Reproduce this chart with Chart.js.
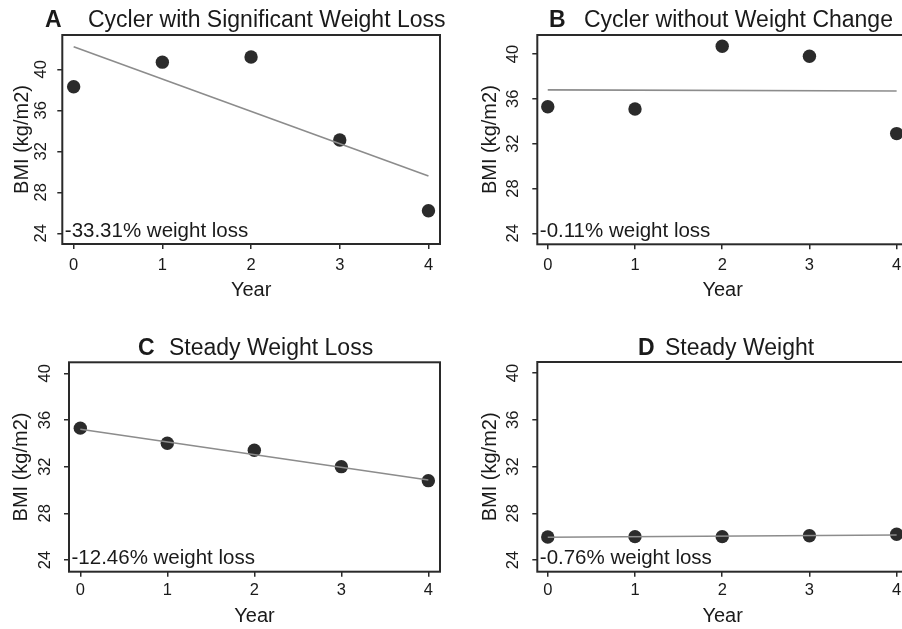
<!DOCTYPE html>
<html>
<head>
<meta charset="utf-8">
<script src="https://cdn.jsdelivr.net/npm/chart.js@4.4.1/dist/chart.umd.min.js"></script>
<style>
  html, body { margin: 0; padding: 0; background: #fff; width: 902px; height: 629px; overflow: hidden; }
  canvas { position: absolute; }
</style>
</head>
<body>
<canvas id="cA" width="451" height="310" style="left:0px;top:0px;"></canvas>
<canvas id="cB" width="470" height="310" style="left:450px;top:0px;"></canvas>
<canvas id="cC" width="451" height="309" style="left:0px;top:320px;"></canvas>
<canvas id="cD" width="470" height="309" style="left:450px;top:320px;"></canvas>
<script>
// ---- data ----
const years = [0, 1, 2, 3, 4];
const fitYears = [0, 4];
const yTicks = [24, 28, 32, 36, 40];

const bmiA = [38.3, 40.7, 41.2, 33.1, 26.2];
const bmiB = [35.3, 35.1, 40.7, 39.8, 32.9];
const bmiC = [35.3, 34.0, 33.4, 32.0, 30.8];
const bmiD = [25.97, 26.0, 26.0, 26.08, 26.2];

const fitA = [42.2, 29.6];
const fitB = [36.8, 36.7];
const fitC = [35.2, 30.85];
const fitD = [25.95, 26.14];

const letters = ['A', 'B', 'C', 'D'];
const titles = ['Cycler with Significant Weight Loss', 'Cycler without Weight Change', 'Steady Weight Loss', 'Steady Weight'];
const notes = ['-33.31% weight loss', '-0.11% weight loss', '-12.46% weight loss', '-0.76% weight loss'];
const yTitle = 'BMI (kg/m2)';
const xTitle = 'Year';

// ---- helpers ----
const FONT = "'Liberation Sans', Arial, Helvetica, sans-serif";
const INK = '#1a1a1a';

const panelDecor = {
  id: 'panelDecor',
  afterDraw(chart, args, o) {
    const ctx = chart.ctx;
    const ca = chart.chartArea;
    ctx.save();
    // frame
    ctx.strokeStyle = '#2a2a2a';
    ctx.lineWidth = 2;
    ctx.strokeRect(ca.left, ca.top, ca.right - ca.left, ca.bottom - ca.top);
    // title
    ctx.fillStyle = INK;
    ctx.textBaseline = 'alphabetic';
    ctx.textAlign = 'left';
    ctx.font = 'bold 23px ' + FONT;
    ctx.fillText(o.letter, o.letterX, o.titleBase);
    ctx.font = '23px ' + FONT;
    ctx.fillText(o.title, o.titleX, o.titleBase);
    // note
    ctx.font = '20.5px ' + FONT;
    ctx.fillText(o.note, ca.left + 2.5, ca.bottom - 7.5);
    ctx.restore();
  }
};

function makePanel(id, cfg) {
  const points = years.map((x, i) => ({ x: x, y: cfg.bmi[i] }));
  const fit = fitYears.map((x, i) => ({ x: x, y: cfg.fit[i] }));
  new Chart(document.getElementById(id), {
    type: 'scatter',
    data: {
      datasets: [
        {
          type: 'line', data: fit, order: 0,
          borderColor: '#8c8c8c', borderWidth: 1.6, pointRadius: 0, fill: false, tension: 0
        },
        {
          type: 'scatter', data: points, order: 1,
          backgroundColor: '#2b2b2b', borderWidth: 0, pointRadius: 6.7, pointHoverRadius: 6.7
        }
      ]
    },
    options: {
      responsive: false,
      animation: false,
      devicePixelRatio: 1,
      layout: { padding: { top: cfg.padTop, right: cfg.padRight, left: 0, bottom: 0 } },
      plugins: {
        legend: { display: false },
        tooltip: { enabled: false },
        panelDecor: {
          letter: cfg.letter, title: cfg.title, note: cfg.note,
          letterX: cfg.letterX, titleX: cfg.titleX, titleBase: cfg.titleBase
        }
      },
      scales: {
        x: {
          type: 'linear', min: cfg.xMin, max: cfg.xMax,
          afterBuildTicks: s => { s.ticks = years.map(v => ({ value: v })); },
          afterFit: s => { s.height = cfg.xAxisH; },
          border: { display: false },
          grid: { display: true, drawOnChartArea: false, drawTicks: true, tickLength: 5, color: '#2a2a2a', lineWidth: 1.5 },
          ticks: { font: { family: FONT, size: 16.5 }, color: INK, padding: cfg.xTickPad, maxRotation: 0, autoSkip: false },
          title: { display: true, text: xTitle, font: { family: FONT, size: 20 }, color: INK, padding: { top: 0, bottom: cfg.xTitlePad } }
        },
        y: {
          type: 'linear', min: cfg.yMin, max: cfg.yMax,
          afterBuildTicks: s => { s.ticks = yTicks.map(v => ({ value: v })); },
          afterFit: s => { s.width = cfg.yAxisW; },
          border: { display: false },
          grid: { display: true, drawOnChartArea: false, drawTicks: true, tickLength: 5, color: '#2a2a2a', lineWidth: 1.5 },
          ticks: { font: { family: FONT, size: 16.5 }, color: INK, padding: cfg.yTickPad, minRotation: 90, maxRotation: 90, crossAlign: 'center', autoSkip: false },
          title: { display: true, text: yTitle, font: { family: FONT, size: 20 }, color: INK, padding: { top: cfg.yTitlePad, bottom: 0 } }
        }
      }
    },
    plugins: [panelDecor]
  });
}

makePanel('cA', {
  bmi: bmiA, fit: fitA, letter: letters[0], title: titles[0], note: notes[0],
  letterX: 45, titleX: 88, titleBase: 26.5,
  padTop: 35, padRight: 11, yAxisW: 62.3, xAxisH: 66,
  xMin: -0.128, xMax: 4.13, yMin: 22.96, yMax: 43.35,
  yTickPad: 6.8, yTitlePad: 10.3, xTickPad: 6.2, xTitlePad: 8
});
makePanel('cB', {
  bmi: bmiB, fit: fitB, letter: letters[1], title: titles[1], note: notes[1],
  letterX: 99, titleX: 134, titleBase: 26.5,
  padTop: 35, padRight: 12, yAxisW: 87.3, xAxisH: 65.7,
  xMin: -0.12, xMax: 4.13, yMin: 23.02, yMax: 41.7,
  yTickPad: 9.8, yTitlePad: 28, xTickPad: 5.9, xTitlePad: 8
});
makePanel('cC', {
  bmi: bmiC, fit: fitC, letter: letters[2], title: titles[2], note: notes[2],
  letterX: 138, titleX: 169, titleBase: 35,
  padTop: 42.3, padRight: 11, yAxisW: 69, xAxisH: 57.3,
  xMin: -0.13, xMax: 4.134, yMin: 23.0, yMax: 40.94,
  yTickPad: 9.1, yTitlePad: 9.7, xTickPad: 3.5, xTitlePad: 0.3
});
makePanel('cD', {
  bmi: bmiD, fit: fitD, letter: letters[3], title: titles[3], note: notes[3],
  letterX: 188, titleX: 215, titleBase: 35,
  padTop: 42, padRight: 12, yAxisW: 87.3, xAxisH: 57.3,
  xMin: -0.12, xMax: 4.13, yMin: 23.0, yMax: 40.94,
  yTickPad: 9.8, yTitlePad: 28, xTickPad: 4.2, xTitlePad: 0.3
});
</script>
</body>
</html>
